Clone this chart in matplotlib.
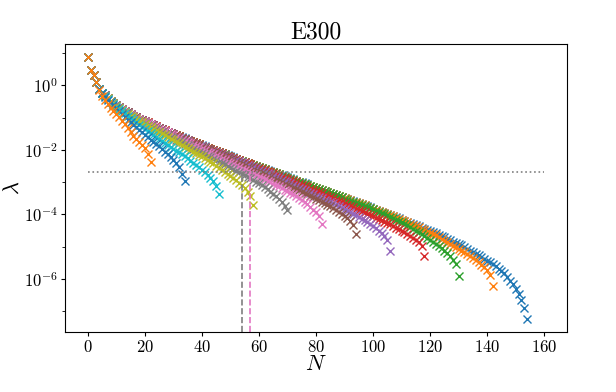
import numpy as np
import matplotlib
matplotlib.use('Agg')
import matplotlib.pyplot as plt
from matplotlib.ticker import FixedLocator, NullFormatter

plt.rcParams['font.family'] = 'serif'
plt.rcParams['font.serif'] = ['cmr10']
plt.rcParams['mathtext.fontset'] = 'cm'
plt.rcParams['axes.formatter.use_mathtext'] = True

title = 'E300'
threshold = 2e-3
thr_xrange = [0, 160]
vline_N = [54, 57]
vline_colors = ['C7', 'C6']
x_ticks = [0, 20, 40, 60, 80, 100, 120, 140, 160]
y_major_ticks = [1e-6, 1e-4, 1e-2, 1e0]
y_minor_ticks = [1e-7, 1e-5, 1e-3, 1e-1, 1e1]

# log10(lambda) for each series, index = N
log_lam_154 = [
    0.88, 0.47, 0.31, 0.11, -0.10, -0.23, -0.31, -0.39, -0.47, -0.54,
    -0.61, -0.67, -0.73, -0.79, -0.84, -0.89, -0.94, -0.99, -1.03, -1.07,
    -1.11, -1.15, -1.19, -1.23, -1.27, -1.31, -1.35, -1.39, -1.43, -1.47,
    -1.50, -1.54, -1.57, -1.61, -1.64, -1.68, -1.72, -1.75, -1.79, -1.82,
    -1.86, -1.89, -1.93, -1.96, -2.00, -2.03, -2.06, -2.10, -2.13, -2.17,
    -2.20, -2.23, -2.27, -2.30, -2.34, -2.37, -2.40, -2.43, -2.47, -2.50,
    -2.53, -2.56, -2.59, -2.63, -2.66, -2.69, -2.72, -2.75, -2.79, -2.82,
    -2.85, -2.88, -2.91, -2.95, -2.98, -3.01, -3.04, -3.07, -3.11, -3.14,
    -3.17, -3.20, -3.23, -3.27, -3.30, -3.33, -3.36, -3.39, -3.43, -3.46,
    -3.49, -3.52, -3.55, -3.59, -3.62, -3.65, -3.68, -3.71, -3.75, -3.78,
    -3.82, -3.86, -3.89, -3.93, -3.96, -3.99, -4.02, -4.05, -4.09, -4.12,
    -4.16, -4.19, -4.23, -4.27, -4.30, -4.34, -4.37, -4.41, -4.45, -4.49,
    -4.52, -4.56, -4.59, -4.64, -4.67, -4.71, -4.75, -4.79, -4.84, -4.88,
    -4.92, -4.96, -5.01, -5.07, -5.12, -5.17, -5.22, -5.27, -5.33, -5.38,
    -5.43, -5.48, -5.54, -5.61, -5.68, -5.75, -5.83, -5.93, -6.05, -6.17,
    -6.31, -6.46, -6.64, -6.90, -7.24]

log_lam_142 = [
    0.88, 0.47, 0.31, 0.11, -0.10, -0.23, -0.31, -0.39, -0.47, -0.54,
    -0.61, -0.67, -0.73, -0.79, -0.84, -0.89, -0.94, -0.99, -1.03, -1.07,
    -1.11, -1.15, -1.19, -1.23, -1.27, -1.31, -1.35, -1.39, -1.43, -1.47,
    -1.51, -1.55, -1.58, -1.62, -1.65, -1.69, -1.73, -1.76, -1.80, -1.83,
    -1.87, -1.90, -1.94, -1.97, -2.01, -2.04, -2.07, -2.11, -2.14, -2.18,
    -2.21, -2.24, -2.28, -2.31, -2.35, -2.38, -2.41, -2.44, -2.48, -2.51,
    -2.54, -2.57, -2.60, -2.64, -2.67, -2.70, -2.73, -2.76, -2.80, -2.83,
    -2.86, -2.89, -2.92, -2.96, -2.99, -3.02, -3.05, -3.08, -3.12, -3.15,
    -3.18, -3.21, -3.24, -3.28, -3.31, -3.34, -3.37, -3.40, -3.44, -3.47,
    -3.50, -3.53, -3.56, -3.60, -3.63, -3.66, -3.69, -3.72, -3.76, -3.79,
    -3.83, -3.86, -3.89, -3.93, -3.96, -3.99, -4.02, -4.06, -4.10, -4.13,
    -4.17, -4.21, -4.24, -4.29, -4.32, -4.36, -4.40, -4.44, -4.49, -4.53,
    -4.57, -4.61, -4.65, -4.71, -4.76, -4.81, -4.86, -4.91, -4.97, -5.02,
    -5.07, -5.12, -5.17, -5.24, -5.30, -5.36, -5.42, -5.48, -5.56, -5.64,
    -5.73, -5.88, -6.21]

log_lam_130 = [
    0.88, 0.47, 0.31, 0.11, -0.10, -0.23, -0.31, -0.39, -0.47, -0.54,
    -0.61, -0.67, -0.73, -0.79, -0.84, -0.89, -0.94, -0.99, -1.03, -1.07,
    -1.12, -1.16, -1.20, -1.24, -1.28, -1.32, -1.36, -1.40, -1.44, -1.48,
    -1.51, -1.55, -1.58, -1.62, -1.65, -1.69, -1.73, -1.76, -1.80, -1.83,
    -1.87, -1.90, -1.94, -1.97, -2.01, -2.04, -2.07, -2.11, -2.14, -2.18,
    -2.21, -2.24, -2.28, -2.31, -2.35, -2.38, -2.41, -2.44, -2.48, -2.51,
    -2.54, -2.57, -2.60, -2.64, -2.67, -2.70, -2.73, -2.76, -2.80, -2.83,
    -2.86, -2.89, -2.92, -2.96, -2.99, -3.02, -3.05, -3.08, -3.12, -3.15,
    -3.18, -3.21, -3.24, -3.28, -3.31, -3.34, -3.37, -3.40, -3.44, -3.47,
    -3.51, -3.54, -3.57, -3.61, -3.64, -3.67, -3.70, -3.74, -3.78, -3.81,
    -3.84, -3.88, -3.91, -3.96, -3.99, -4.03, -4.07, -4.11, -4.16, -4.20,
    -4.24, -4.29, -4.34, -4.40, -4.45, -4.50, -4.55, -4.60, -4.67, -4.73,
    -4.79, -4.85, -4.91, -4.98, -5.05, -5.12, -5.20, -5.29, -5.41, -5.54,
    -5.91]

log_lam_118 = [
    0.88, 0.47, 0.31, 0.11, -0.10, -0.23, -0.31, -0.39, -0.47, -0.54,
    -0.61, -0.67, -0.73, -0.79, -0.84, -0.89, -0.94, -0.99, -1.03, -1.07,
    -1.11, -1.15, -1.19, -1.23, -1.27, -1.31, -1.35, -1.39, -1.43, -1.47,
    -1.51, -1.55, -1.58, -1.62, -1.65, -1.69, -1.73, -1.76, -1.80, -1.83,
    -1.87, -1.90, -1.94, -1.97, -2.01, -2.04, -2.08, -2.11, -2.15, -2.18,
    -2.22, -2.25, -2.29, -2.32, -2.36, -2.39, -2.42, -2.45, -2.49, -2.52,
    -2.56, -2.59, -2.62, -2.66, -2.70, -2.73, -2.76, -2.79, -2.83, -2.87,
    -2.90, -2.94, -2.97, -3.01, -3.05, -3.08, -3.12, -3.15, -3.20, -3.23,
    -3.27, -3.31, -3.35, -3.39, -3.43, -3.47, -3.50, -3.54, -3.59, -3.63,
    -3.66, -3.70, -3.74, -3.78, -3.82, -3.86, -3.90, -3.93, -3.98, -4.02,
    -4.06, -4.10, -4.14, -4.18, -4.23, -4.27, -4.31, -4.35, -4.41, -4.45,
    -4.50, -4.56, -4.61, -4.68, -4.74, -4.80, -4.87, -4.97, -5.30]

log_lam_106 = [
    0.88, 0.47, 0.31, 0.11, -0.10, -0.23, -0.31, -0.39, -0.47, -0.54,
    -0.61, -0.67, -0.73, -0.79, -0.84, -0.89, -0.94, -0.99, -1.03, -1.07,
    -1.11, -1.16, -1.20, -1.24, -1.28, -1.32, -1.36, -1.40, -1.44, -1.48,
    -1.52, -1.56, -1.59, -1.63, -1.66, -1.70, -1.74, -1.78, -1.81, -1.85,
    -1.88, -1.92, -1.96, -1.99, -2.03, -2.06, -2.10, -2.13, -2.17, -2.21,
    -2.24, -2.27, -2.32, -2.35, -2.39, -2.42, -2.46, -2.49, -2.54, -2.57,
    -2.61, -2.65, -2.68, -2.73, -2.76, -2.80, -2.83, -2.87, -2.92, -2.96,
    -3.00, -3.04, -3.08, -3.13, -3.17, -3.21, -3.25, -3.29, -3.34, -3.38,
    -3.42, -3.46, -3.50, -3.55, -3.59, -3.63, -3.66, -3.70, -3.75, -3.80,
    -3.84, -3.88, -3.93, -3.98, -4.03, -4.08, -4.13, -4.18, -4.24, -4.30,
    -4.36, -4.43, -4.50, -4.59, -4.67, -4.79, -5.14]

log_lam_94 = [
    0.88, 0.47, 0.31, 0.11, -0.10, -0.23, -0.31, -0.39, -0.47, -0.54,
    -0.61, -0.67, -0.73, -0.79, -0.84, -0.89, -0.94, -0.99, -1.03, -1.08,
    -1.12, -1.16, -1.20, -1.24, -1.28, -1.32, -1.36, -1.40, -1.44, -1.48,
    -1.52, -1.56, -1.59, -1.63, -1.67, -1.71, -1.75, -1.78, -1.82, -1.86,
    -1.90, -1.93, -1.98, -2.01, -2.05, -2.09, -2.12, -2.17, -2.20, -2.25,
    -2.28, -2.32, -2.36, -2.40, -2.44, -2.48, -2.52, -2.56, -2.61, -2.65,
    -2.68, -2.72, -2.76, -2.81, -2.85, -2.89, -2.92, -2.96, -3.01, -3.05,
    -3.09, -3.13, -3.17, -3.21, -3.25, -3.29, -3.33, -3.37, -3.43, -3.46,
    -3.51, -3.55, -3.60, -3.65, -3.70, -3.75, -3.80, -3.86, -3.92, -3.99,
    -4.05, -4.12, -4.20, -4.32, -4.60]

log_lam_82 = [
    0.88, 0.47, 0.31, 0.11, -0.10, -0.23, -0.31, -0.39, -0.47, -0.54,
    -0.61, -0.67, -0.73, -0.79, -0.85, -0.90, -0.95, -1.00, -1.04, -1.09,
    -1.13, -1.17, -1.21, -1.26, -1.30, -1.34, -1.38, -1.42, -1.46, -1.51,
    -1.55, -1.60, -1.63, -1.68, -1.71, -1.76, -1.80, -1.84, -1.89, -1.92,
    -1.97, -2.00, -2.05, -2.09, -2.14, -2.18, -2.22, -2.27, -2.31, -2.36,
    -2.40, -2.44, -2.49, -2.53, -2.58, -2.62, -2.66, -2.71, -2.75, -2.79,
    -2.83, -2.87, -2.91, -2.96, -3.00, -3.05, -3.09, -3.13, -3.19, -3.23,
    -3.28, -3.33, -3.38, -3.44, -3.50, -3.56, -3.62, -3.69, -3.77, -3.85,
    -3.94, -4.06, -4.31]

log_lam_70 = [
    0.88, 0.47, 0.31, 0.11, -0.10, -0.23, -0.31, -0.39, -0.47, -0.54,
    -0.62, -0.68, -0.75, -0.81, -0.87, -0.93, -0.98, -1.03, -1.08, -1.13,
    -1.18, -1.22, -1.27, -1.31, -1.36, -1.41, -1.45, -1.50, -1.55, -1.59,
    -1.63, -1.68, -1.72, -1.77, -1.81, -1.86, -1.91, -1.96, -2.01, -2.05,
    -2.10, -2.14, -2.19, -2.23, -2.28, -2.32, -2.36, -2.41, -2.45, -2.51,
    -2.55, -2.59, -2.64, -2.68, -2.74, -2.78, -2.83, -2.87, -2.93, -2.99,
    -3.04, -3.09, -3.15, -3.22, -3.29, -3.36, -3.43, -3.52, -3.62, -3.75,
    -3.86]

log_lam_58 = [
    0.88, 0.47, 0.31, 0.11, -0.10, -0.23, -0.32, -0.40, -0.48, -0.56,
    -0.63, -0.70, -0.76, -0.82, -0.88, -0.94, -0.99, -1.05, -1.10, -1.15,
    -1.20, -1.25, -1.30, -1.35, -1.40, -1.45, -1.50, -1.55, -1.60, -1.65,
    -1.70, -1.75, -1.80, -1.85, -1.90, -1.95, -2.00, -2.05, -2.10, -2.15,
    -2.20, -2.25, -2.30, -2.36, -2.42, -2.49, -2.55, -2.61, -2.68, -2.74,
    -2.80, -2.87, -2.94, -3.02, -3.10, -3.19, -3.29, -3.44, -3.70]

log_lam_46 = [
    0.88, 0.47, 0.31, 0.11, -0.10, -0.24, -0.33, -0.42, -0.50, -0.58,
    -0.66, -0.73, -0.80, -0.87, -0.94, -1.01, -1.08, -1.15, -1.22, -1.29,
    -1.36, -1.42, -1.48, -1.54, -1.60, -1.66, -1.72, -1.78, -1.84, -1.90,
    -1.96, -2.02, -2.08, -2.14, -2.20, -2.26, -2.33, -2.40, -2.47, -2.54,
    -2.61, -2.69, -2.77, -2.86, -2.97, -3.12, -3.38]

log_lam_34 = [
    0.88, 0.47, 0.31, 0.11, -0.11, -0.25, -0.35, -0.44, -0.53, -0.61,
    -0.70, -0.79, -0.88, -0.97, -1.06, -1.14, -1.22, -1.30, -1.38, -1.46,
    -1.53, -1.61, -1.68, -1.75, -1.82, -1.89, -1.97, -2.05, -2.14, -2.23,
    -2.32, -2.42, -2.54, -2.75, -2.96]

log_lam_22 = [
    0.88, 0.47, 0.31, 0.09, -0.15, -0.33, -0.46, -0.58, -0.69, -0.79,
    -0.89, -0.99, -1.09, -1.19, -1.32, -1.45, -1.56, -1.66, -1.76, -1.85,
    -1.95, -2.13, -2.39]

series = [log_lam_154, log_lam_142, log_lam_130, log_lam_118, log_lam_106,
          log_lam_94, log_lam_82, log_lam_70, log_lam_58, log_lam_46,
          log_lam_34, log_lam_22]

fig = plt.figure(figsize=(6.16, 3.92), dpi=100)
ax = fig.add_axes([0.1055, 0.153, 0.815, 0.735])

for k, s in enumerate(series):
    n = np.arange(len(s))
    ax.semilogy(n, 10.0 ** np.array(s), 'x', color=f'C{k % 10}', ms=6, mew=1.0)

ax.hlines(threshold, thr_xrange[0], thr_xrange[1], colors='grey',
          linestyles=':', linewidth=1.2)
ylim = ax.get_ylim()
for xv, c in zip(vline_N, vline_colors):
    ax.vlines(xv, ylim[0], threshold, colors=c, linestyles='--', linewidth=1.2)
ax.set_ylim(ylim)

ax.set_xticks(x_ticks)
ax.yaxis.set_major_locator(FixedLocator(y_major_ticks))
ax.yaxis.set_minor_locator(FixedLocator(y_minor_ticks))
ax.yaxis.set_minor_formatter(NullFormatter())
ax.set_title(title, fontsize=17, pad=4)
ax.set_xlabel('$N$', fontsize=16, labelpad=0)
ax.set_ylabel('$\\lambda$', fontsize=16, labelpad=1)
ax.tick_params(labelsize=12, length=3, pad=2)

fig.savefig('out.png', dpi=100)
